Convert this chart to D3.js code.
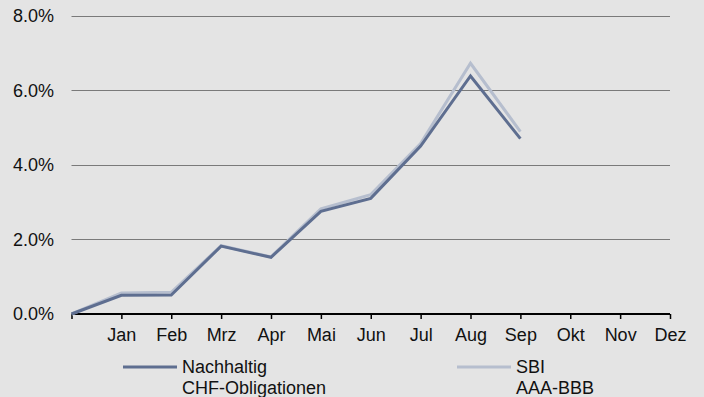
<!DOCTYPE html>
<html>
<head>
<meta charset="utf-8">
<script src="https://cdn.jsdelivr.net/npm/d3@7"></script>
<style>
  html, body { margin: 0; padding: 0; background: #e4e4e4; }
  svg { display: block; font-family: "Liberation Sans", Arial, Helvetica, sans-serif; }
</style>
</head>
<body>
<svg id="chart" width="704" height="397"></svg>
<script>
// Month categories; the empty first slot is the year start (0 %)
const categories = ["", "Jan", "Feb", "Mrz", "Apr", "Mai", "Jun", "Jul", "Aug", "Sep", "Okt", "Nov", "Dez"];
// Year-to-date performance in percent
const nachhaltig = [0, 0.50, 0.51, 1.82, 1.52, 2.75, 3.10, 4.50, 6.38, 4.70];
const sbi        = [0, 0.56, 0.58, 1.83, 1.53, 2.82, 3.20, 4.57, 6.72, 4.89];
const yTicks = [0, 2, 4, 6, 8];
const seriesNames = [["Nachhaltig", "CHF-Obligationen"], ["SBI", "AAA-BBB"]];
const seriesColors = ["#5e6e90", "#b6bece"];

const svg = d3.select("#chart");
const plotLeft = 71.5, plotRight = 670, plotTop = 15.5, plotBottom = 314;

const x = d3.scalePoint().domain(categories.map((c, i) => i)).range([plotLeft, plotRight]);
const y = d3.scaleLinear().domain([0, 8]).range([plotBottom, plotTop]);

// Horizontal gridlines
svg.append("g").selectAll("line")
  .data(yTicks.filter(d => d > 0))
  .join("line")
  .attr("x1", plotLeft).attr("x2", plotRight)
  .attr("y1", d => Math.round(y(d)) + 0.5).attr("y2", d => Math.round(y(d)) + 0.5)
  .attr("stroke", "#7a7a7a").attr("stroke-width", 1);

// Y axis labels
svg.append("g").selectAll("text")
  .data(yTicks)
  .join("text")
  .attr("x", 54).attr("y", d => y(d))
  .attr("dy", "0.36em")
  .attr("text-anchor", "end")
  .attr("font-size", 18).attr("fill", "#111")
  .text(d => d.toFixed(1) + "%");

// X axis
const xAxis = d3.axisBottom(x)
  .tickSize(5)
  .tickPadding(9)
  .tickFormat(i => categories[i]);
const gx = svg.append("g").attr("transform", `translate(0,${plotBottom})`).call(xAxis);
gx.select(".domain").attr("stroke", "#000").attr("stroke-width", 2).attr("d", `M${plotLeft},0H${plotRight}`);
gx.selectAll(".tick line").attr("stroke", "#000").attr("stroke-width", 1.5);
gx.selectAll(".tick text")
  .attr("font-size", 18).attr("fill", "#111")
  .attr("font-family", "Liberation Sans, Arial, sans-serif");

// Lines: benchmark underneath, fund on top
const line = d3.line().x((d, i) => x(i)).y(d => y(d));
[[sbi, seriesColors[1]], [nachhaltig, seriesColors[0]]].forEach(([s, color]) => {
  svg.append("path")
    .datum(s)
    .attr("d", line)
    .attr("fill", "none")
    .attr("stroke", color)
    .attr("stroke-width", 3)
    .attr("stroke-linejoin", "miter");
});

// Legend
const legendX = [123, 457];
seriesNames.forEach((names, k) => {
  const g = svg.append("g");
  g.append("line")
    .attr("x1", legendX[k]).attr("x2", legendX[k] + 54)
    .attr("y1", 367).attr("y2", 367)
    .attr("stroke", seriesColors[k]).attr("stroke-width", 3);
  g.append("text")
    .attr("x", legendX[k] + 59).attr("y", 373)
    .attr("font-size", 18).attr("fill", "#111")
    .text(names[0]);
  g.append("text")
    .attr("x", legendX[k] + 59).attr("y", 393.5)
    .attr("font-size", 18).attr("fill", "#111")
    .text(names[1]);
});
</script>
</body>
</html>
